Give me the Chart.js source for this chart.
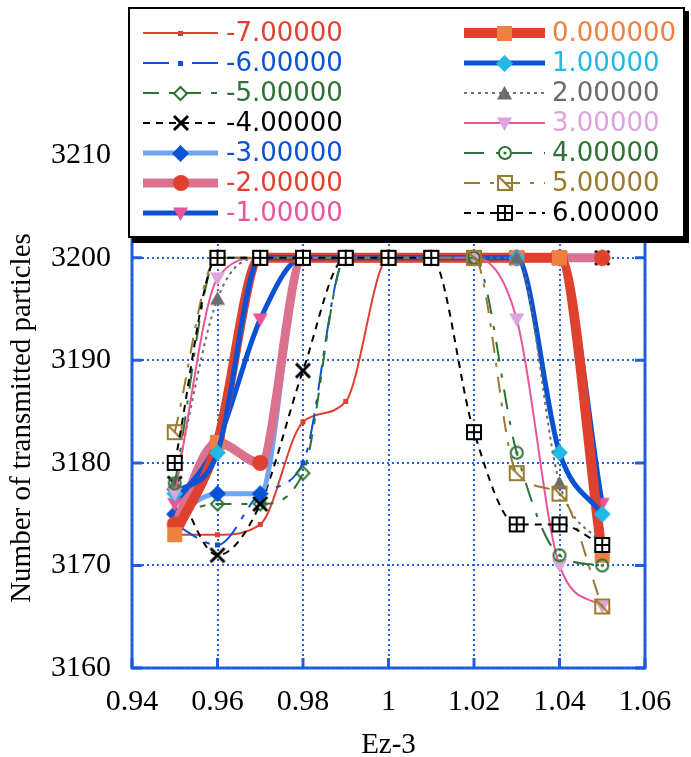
<!DOCTYPE html>
<html>
<head>
<meta charset="utf-8">
<title>Number of transmitted particles vs Ez-3</title>
<script src="https://cdn.jsdelivr.net/npm/chart.js@4.4.0/dist/chart.umd.min.js"></script>
<style>
  html, body { margin: 0; padding: 0; background: #fff; }
  #wrap { width: 691px; height: 757px; }
</style>
</head>
<body>
<div id="wrap"><canvas id="particlesChart" width="691" height="757"></canvas></div>
<script>
// Ez-3 scan points
const ezValues = [0.95, 0.96, 0.97, 0.98, 0.99, 1.00, 1.01, 1.02, 1.03, 1.04, 1.05];

const seriesLabels = ['-7.00000', '-6.00000', '-5.00000', '-4.00000', '-3.00000', '-2.00000', '-1.00000',
                      '0.000000', '1.00000', '2.00000', '3.00000', '4.00000', '5.00000', '6.00000'];

// transmitted particles for each setting
const particlesM7 = [3173, 3173, 3174, 3184, 3186, 3200, 3200, 3200, 3200, 3200, 3200];
const particlesM6 = [3174, 3172, 3177, 3180, 3200, 3200, 3200, 3200, 3200, 3200, 3200];
const particlesM5 = [3175, 3176, 3176, 3179, 3200, 3200, 3200, 3200, 3200, 3200, 3200];
const particlesM4 = [3178, 3171, 3176, 3189, 3200, 3200, 3200, 3200, 3200, 3200, 3200];
const particlesM3 = [3175, 3177, 3177, 3200, 3200, 3200, 3200, 3200, 3200, 3200, 3200];
const particlesM2 = [3174, 3182, 3180, 3200, 3200, 3200, 3200, 3200, 3200, 3200, 3200];
const particlesM1 = [3176, 3182, 3194, 3200, 3200, 3200, 3200, 3200, 3200, 3200, 3176];
const particlesP0 = [3173, 3182, 3200, 3200, 3200, 3200, 3200, 3200, 3200, 3200, 3171];
const particlesP1 = [3177, 3181, 3200, 3200, 3200, 3200, 3200, 3200, 3200, 3181, 3175];
const particlesP2 = [3178, 3196, 3200, 3200, 3200, 3200, 3200, 3200, 3200, 3178, 3172];
const particlesP3 = [3177, 3198, 3200, 3200, 3200, 3200, 3200, 3200, 3194, 3170, 3166];
const particlesP4 = [3178, 3200, 3200, 3200, 3200, 3200, 3200, 3200, 3181, 3171, 3170];
const particlesP5 = [3183, 3200, 3200, 3200, 3200, 3200, 3200, 3200, 3179, 3177, 3166];
const particlesP6 = [3180, 3200, 3200, 3200, 3200, 3200, 3200, 3183, 3174, 3174, 3172];

const allSeries = [particlesM7, particlesM6, particlesM5, particlesM4, particlesM3, particlesM2, particlesM1,
                   particlesP0, particlesP1, particlesP2, particlesP3, particlesP4, particlesP5, particlesP6];

const xTicks = [0.94, 0.96, 0.98, 1.00, 1.02, 1.04, 1.06];
const yTicks = [3160, 3170, 3180, 3190, 3200, 3210];

const RED = '#e0412f', BLUE = '#0a52d4', GREEN = '#2d7234', LBLUE = '#6ea6f0', PINK = '#d9718f',
      HOT = '#ea5499', ORANGE = '#ef8040', CYAN = '#22b8e6', GRAY = '#6c6c6c', PLUM = '#dda3dd', OLIVE = '#9a7a2e';

// line colour, width, dash, marker kind, marker colour, marker size
const styles = [
  [RED,   2,  [],                 'square',      RED,    5],
  [BLUE,  2,  [26, 9, 5, 9],      'square',      BLUE,   5],
  [GREEN, 2,  [16, 10, 6, 10],    'openDiamond', GREEN,  15],
  ['#000', 2, [7, 6],             'cross',       '#000', 14],
  [LBLUE, 5,  [],                 'diamond',     BLUE,   17],
  [PINK,  9,  [],                 'circle',      RED,    16],
  [BLUE,  5,  [],                 'triDown',     HOT,    15],
  [RED,   10, [],                 'square',      ORANGE, 15],
  [BLUE,  5,  [],                 'diamond',     CYAN,   17],
  [GRAY,  2,  [3, 4],             'triUp',       GRAY,   15],
  [HOT,   2,  [],                 'triDown',     PLUM,   15],
  [GREEN, 2,  [20, 12, 4, 12],    'circleDot',   GREEN,  14],
  [OLIVE, 2,  [16, 10, 4, 10],    'squareSlash', OLIVE,  14],
  ['#000', 2, [7, 6],             'squarePlus',  '#000', 14]
];

function makeMarker(kind, color, size) {
  const s = size + 6;
  const c = document.createElement('canvas');
  c.width = s; c.height = s;
  const g = c.getContext('2d');
  const m = s / 2, r = size / 2;
  g.fillStyle = color;
  g.strokeStyle = color;
  g.lineWidth = 2;
  g.beginPath();
  switch (kind) {
    case 'square':
      g.fillRect(m - r, m - r, size, size);
      break;
    case 'diamond':
      g.moveTo(m, m - r); g.lineTo(m + r, m); g.lineTo(m, m + r); g.lineTo(m - r, m); g.closePath(); g.fill();
      break;
    case 'openDiamond':
      g.moveTo(m, m - r + 1); g.lineTo(m + r - 1, m); g.lineTo(m, m + r - 1); g.lineTo(m - r + 1, m); g.closePath(); g.stroke();
      break;
    case 'circle':
      g.arc(m, m, r, 0, Math.PI * 2); g.fill();
      break;
    case 'triUp':
      g.moveTo(m, m - r); g.lineTo(m + r, m + r * 0.8); g.lineTo(m - r, m + r * 0.8); g.closePath(); g.fill();
      break;
    case 'triDown':
      g.moveTo(m, m + r); g.lineTo(m + r, m - r * 0.8); g.lineTo(m - r, m - r * 0.8); g.closePath(); g.fill();
      break;
    case 'cross':
      g.lineWidth = 3;
      g.moveTo(m - r, m - r); g.lineTo(m + r, m + r); g.moveTo(m + r, m - r); g.lineTo(m - r, m + r); g.stroke();
      break;
    case 'circleDot':
      g.arc(m, m, r - 1, 0, Math.PI * 2); g.stroke();
      g.beginPath(); g.arc(m, m, 1.6, 0, Math.PI * 2); g.fill();
      break;
    case 'squareSlash':
      g.rect(m - r, m - r, size, size);
      g.moveTo(m - r, m - r); g.lineTo(m + r, m + r); g.stroke();
      break;
    case 'squarePlus':
      g.fillStyle = '#fff'; g.fillRect(m - r, m - r, size, size);
      g.rect(m - r, m - r, size, size);
      g.moveTo(m, m - r); g.lineTo(m, m + r); g.moveTo(m - r, m); g.lineTo(m + r, m); g.stroke();
      break;
  }
  return c;
}

const datasets = allSeries.map((vals, i) => {
  const [col, w, dash, kind, mcol, msize] = styles[i];
  return {
    label: seriesLabels[i],
    data: ezValues.map((x, k) => ({ x: x, y: vals[k] })),
    borderColor: col,
    borderWidth: w,
    borderDash: dash,
    borderCapStyle: 'butt',
    cubicInterpolationMode: 'monotone',
    pointStyle: makeMarker(kind, mcol, msize),
    pointRadius: 7,
    pointBackgroundColor: mcol,
    pointBorderColor: mcol,
    order: allSeries.length - 1 - i,
    fill: false
  };
});

const GRID = 'rgba(24, 88, 222, 0.95)';
const AXIS_FONT = { family: 'Liberation Serif', size: 30 };

// solid frame with inward tick marks
const framePlugin = {
  id: 'framePlugin',
  beforeDatasetsDraw(chart) {
    const { ctx, chartArea: a, scales } = chart;
    ctx.save();
    ctx.strokeStyle = GRID;
    ctx.lineWidth = 3;
    ctx.beginPath();
    xTicks.forEach(v => {
      const px = scales.x.getPixelForValue(v);
      ctx.moveTo(px, a.bottom); ctx.lineTo(px, a.bottom - 10);
      ctx.moveTo(px, a.top); ctx.lineTo(px, a.top + 10);
    });
    yTicks.forEach(v => {
      const py = scales.y.getPixelForValue(v);
      ctx.moveTo(a.left, py); ctx.lineTo(a.left + 10, py);
      ctx.moveTo(a.right, py); ctx.lineTo(a.right - 10, py);
    });
    ctx.stroke();
    ctx.strokeRect(a.left, a.top, a.right - a.left, a.bottom - a.top);
    ctx.restore();
  }
};

// boxed legend in two columns plus the y axis title
const legendPlugin = {
  id: 'legendPlugin',
  afterDraw(chart) {
    const ctx = chart.ctx;
    ctx.save();
    ctx.font = '29px "Liberation Serif"';
    ctx.fillStyle = '#000';
    ctx.translate(22, 418);
    ctx.rotate(-Math.PI / 2);
    ctx.textAlign = 'center';
    ctx.textBaseline = 'middle';
    ctx.fillText('Number of transmitted particles', 0, 0);
    ctx.restore();

    ctx.save();
    ctx.fillStyle = '#000';
    ctx.fillRect(132, 11, 557, 232);
    ctx.fillStyle = '#fff';
    ctx.fillRect(128, 7, 557, 231);
    ctx.strokeStyle = '#000';
    ctx.lineWidth = 2;
    ctx.strokeRect(129, 8, 555, 229);
    ctx.font = '26px "DejaVu Sans"';
    ctx.textBaseline = 'middle';
    ctx.textAlign = 'left';
    chart.data.datasets.forEach((ds, i) => {
      const col = i < 7 ? 0 : 1;
      const y = 33 + (i % 7) * 30;
      const x0 = col ? 464 : 143, x1 = col ? 545 : 218, xt = col ? 552 : 226;
      ctx.beginPath();
      ctx.setLineDash(ds.borderDash);
      ctx.lineWidth = ds.borderWidth;
      ctx.strokeStyle = ds.borderColor;
      ctx.lineCap = 'butt';
      ctx.moveTo(x0, y); ctx.lineTo(x1, y);
      ctx.stroke();
      ctx.setLineDash([]);
      const mk = ds.pointStyle;
      ctx.drawImage(mk, Math.round((x0 + x1) / 2 - mk.width / 2), Math.round(y - mk.height / 2));
      ctx.fillStyle = styles[i][4];
      ctx.fillText(ds.label, xt, y + 1);
    });
    ctx.restore();
  }
};

new Chart(document.getElementById('particlesChart'), {
  type: 'line',
  data: { datasets: datasets },
  plugins: [framePlugin, legendPlugin],
  options: {
    responsive: false,
    animation: false,
    devicePixelRatio: 1,
    layout: { padding: { left: 0, right: 46, top: 104, bottom: 0 } },
    plugins: { legend: { display: false }, tooltip: { enabled: false } },
    scales: {
      x: {
        type: 'linear',
        min: 0.94,
        max: 1.06,
        afterBuildTicks: s => { s.ticks = xTicks.map(v => ({ value: v })); },
        afterFit: s => { s.height = 89; },
        grid: { color: GRID, lineWidth: 2, drawTicks: false },
        border: { display: false, dash: [2, 3] },
        ticks: {
          padding: 16,
          color: '#000',
          font: AXIS_FONT,
          callback: v => String(parseFloat(v.toFixed(2)))
        },
        title: {
          display: true,
          text: 'Ez-3',
          color: '#000',
          font: { family: 'Liberation Serif', size: 29, lineHeight: 0.8 },
          padding: { top: 0, bottom: 0 }
        }
      },
      y: {
        type: 'linear',
        min: 3160,
        max: 3215,
        afterBuildTicks: s => { s.ticks = yTicks.map(v => ({ value: v })); },
        afterFit: s => { s.width = 132; },
        grid: { color: GRID, lineWidth: 2, drawTicks: false },
        border: { display: false, dash: [2, 3] },
        ticks: {
          padding: 21,
          color: '#000',
          font: AXIS_FONT,
          callback: v => String(v)
        }
      }
    }
  }
});
</script>
</body>
</html>
